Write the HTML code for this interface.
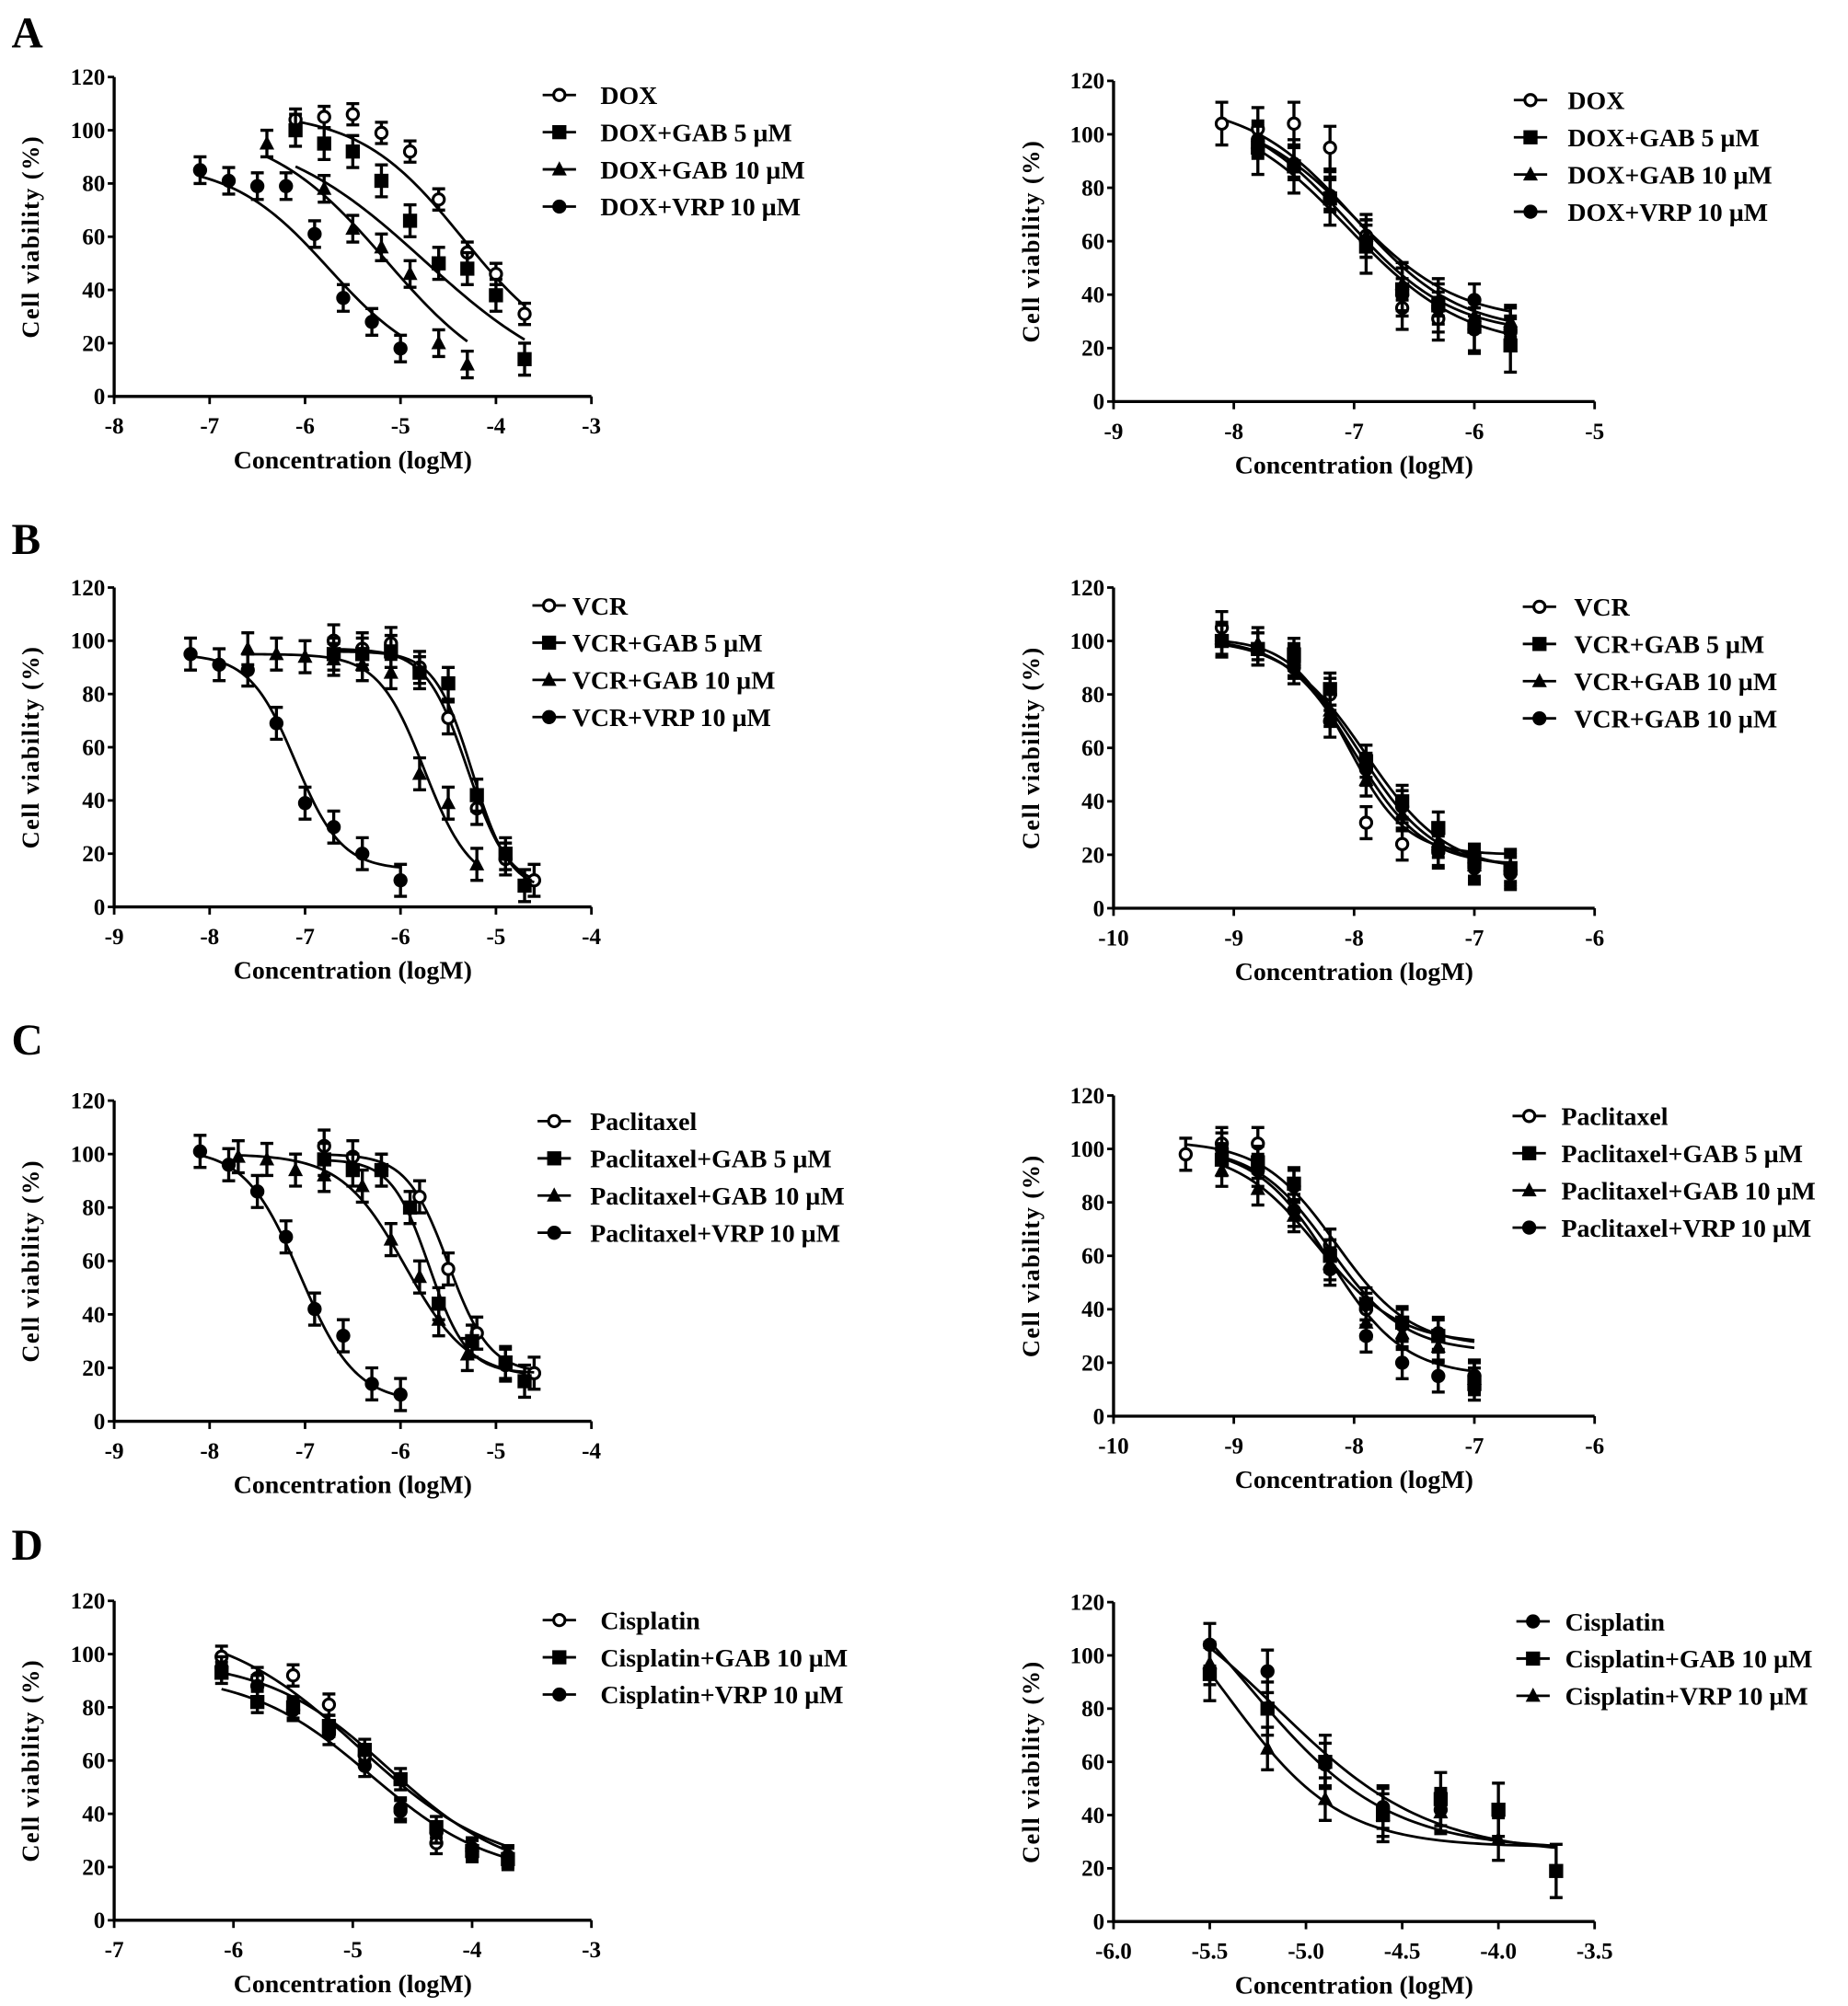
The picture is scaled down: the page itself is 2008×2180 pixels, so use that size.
<!DOCTYPE html>
<html><head><meta charset="utf-8"><style>
html,body{margin:0;padding:0;background:#fff;}
svg{display:block;}
svg text{font-family:"Liberation Serif","Times New Roman",serif !important;font-weight:bold;fill:#000;}
</style></head><body>
<svg id="fig" xmlns="http://www.w3.org/2000/svg" width="2008" height="2180" viewBox="0 0 1440.5 1563.8" font-family="Liberation Serif, serif" font-weight="bold"></svg>
<script>
// ===== Data (x = log concentration, y = cell viability %) =====
// Panel A left
const aL_names = ["DOX","DOX+GAB 5 µM","DOX+GAB 10 µM","DOX+VRP 10 µM"];
const aL_s1x = [-6.1,-5.8,-5.5,-5.2,-4.9,-4.6,-4.3,-4.0,-3.7];
const aL_s1y = [104,105,106,99,92,74,54,46,31];
const aL_s2x = [-6.1,-5.8,-5.5,-5.2,-4.9,-4.6,-4.3,-4.0,-3.7];
const aL_s2y = [100,95,92,81,66,50,48,38,14];
const aL_s3x = [-6.4,-5.8,-5.5,-5.2,-4.9,-4.6,-4.3];
const aL_s3y = [95,78,63,56,46,20,12];
const aL_s4x = [-7.1,-6.8,-6.5,-6.2,-5.9,-5.6,-5.3,-5.0];
const aL_s4y = [85,81,79,79,61,37,28,18];
const aL_fit = [[107,12,-4.35,0.8,-6.1,-3.7],[102,0,-4.75,0.55,-6.1,-3.7],[102,0,-5.15,0.7,-6.4,-4.3],[88,8,-5.75,0.85,-7.1,-5.0]];
const aL_err = [4,6,5,5];
// Panel A right
const aR_names = ["DOX","DOX+GAB 5 µM","DOX+GAB 10 µM","DOX+VRP 10 µM"];
const aR_xs = [-8.1,-7.8,-7.5,-7.2,-6.9,-6.6,-6.3,-6.0,-5.7];
const aR_s1y = [104,102,104,95,62,35,31,27,27];
const aR_s2y = [null,95,88,76,58,42,36,28,21];
const aR_s3y = [null,97,90,78,62,44,38,32,30];
const aR_s4y = [null,98,89,77,60,40,35,38,26];
const aR_fit = [[112,26,-7.0,1.0,-8.1,-5.7],[110,20,-7.05,0.9,-7.8,-5.7],[108,30,-7.0,1.0,-7.8,-5.7],[110,25,-7.05,1.0,-7.8,-5.7]];
const aR_err = [8,10,6,6];
// Panel B left
const bL_names = ["VCR","VCR+GAB 5 µM","VCR+GAB 10 µM","VCR+VRP 10 µM"];
const bL_s1x = [-6.7,-6.4,-6.1,-5.8,-5.5,-5.2,-4.9,-4.6];
const bL_s1y = [100,97,99,90,71,37,18,10];
const bL_s2x = [-6.7,-6.4,-6.1,-5.8,-5.5,-5.2,-4.9,-4.7];
const bL_s2y = [95,95,96,88,84,42,20,8];
const bL_s3x = [-7.6,-7.3,-7.0,-6.7,-6.4,-6.1,-5.8,-5.5,-5.2];
const bL_s3y = [97,95,94,93,91,88,50,39,16];
const bL_s4x = [-8.2,-7.9,-7.6,-7.3,-7.0,-6.7,-6.4,-6.0];
const bL_s4y = [95,91,89,69,39,30,20,10];
const bL_fit = [[97,7,-5.3,2.0,-6.7,-4.6],[96,6,-5.25,2.2,-6.7,-4.6],[95,8,-5.75,1.8,-7.6,-5.2],[95,14,-7.1,1.8,-8.2,-6.0]];
const bL_err = [6,6,6,6];
// Panel B right
const bR_names = ["VCR","VCR+GAB 5 µM","VCR+GAB 10 µM","VCR+GAB 10 µM"];
const bR_xs = [-9.1,-8.8,-8.5,-8.2,-7.9,-7.6,-7.3,-7.0,-6.7];
const bR_s1y = [105,97,92,80,32,24,21,17,14];
const bR_s2y = [100,97,95,82,55,40,30,18,15];
const bR_s3y = [101,99,93,74,48,35,25,16,16];
const bR_s4y = [100,97,90,70,52,38,22,15,13];
const bR_fit = [[101,20,-8.05,1.8,-9.1,-6.7],[101,14,-7.9,1.3,-9.1,-6.7],[101,15,-7.95,1.4,-9.1,-6.7],[101,16,-8.0,1.5,-9.1,-6.7]];
const bR_err = [6,6,6,6];
// Panel C left
const cL_names = ["Paclitaxel","Paclitaxel+GAB 5 µM","Paclitaxel+GAB 10 µM","Paclitaxel+VRP 10 µM"];
const cL_s1x = [-6.8,-6.5,-6.2,-5.8,-5.5,-5.2,-4.9,-4.6];
const cL_s1y = [103,99,94,84,57,33,21,18];
const cL_s2x = [-6.8,-6.5,-6.2,-5.9,-5.6,-5.25,-4.9,-4.7];
const cL_s2y = [98,94,94,80,44,30,22,15];
const cL_s3x = [-7.7,-7.4,-7.1,-6.8,-6.4,-6.1,-5.8,-5.6,-5.3];
const cL_s3y = [99,98,94,92,88,68,54,38,25];
const cL_s4x = [-8.1,-7.8,-7.5,-7.2,-6.9,-6.6,-6.3,-6.0];
const cL_s4y = [101,96,86,69,42,32,14,10];
const cL_fit = [[100,18,-5.5,2.0,-6.8,-4.6],[98,18,-5.7,2.2,-6.8,-4.6],[100,16,-5.95,1.3,-7.7,-4.7],[102,7,-7.05,1.5,-8.1,-6.0]];
const cL_err = [6,6,6,6];
// Panel C right
const cR_names = ["Paclitaxel","Paclitaxel+GAB 5 µM","Paclitaxel+GAB 10 µM","Paclitaxel+VRP 10 µM"];
const cR_xs = [-9.4,-9.1,-8.8,-8.5,-8.2,-7.9,-7.6,-7.3,-7.0];
const cR_s1y = [98,102,102,86,64,40,34,31,15];
const cR_s2y = [null,96,95,87,60,42,35,30,12];
const cR_s3y = [null,92,85,75,57,35,31,26,14];
const cR_s4y = [null,100,92,77,55,30,20,15,15];
const cR_fit = [[103,26,-8.15,1.4,-9.4,-7.0],[101,24,-8.2,1.4,-9.1,-7.0],[100,27,-8.3,1.3,-9.1,-7.0],[101,15,-8.2,1.4,-9.1,-7.0]];
const cR_err = [6,6,6,6];
// Panel D left
const dL_names = ["Cisplatin","Cisplatin+GAB 10 µM","Cisplatin+VRP 10 µM"];
const dL_xs = [-6.1,-5.8,-5.5,-5.2,-4.9,-4.6,-4.3,-4.0,-3.7];
const dL_s1y = [99,91,92,81,62,41,29,27,24];
const dL_s2y = [93,82,80,73,64,53,35,26,23];
const dL_s3y = [95,88,79,70,58,42,33,26,24];
const dL_fit = [[112,18,-4.95,0.75,-6.1,-3.7],[98,16,-4.7,0.85,-6.1,-3.7],[93,16,-4.85,0.85,-6.1,-3.7]];
const dL_err = [4,4,4];
// Panel D right
const dR_names = ["Cisplatin","Cisplatin+GAB 10 µM","Cisplatin+VRP 10 µM"];
const dR_s1x = [-5.5,-5.2,-4.9,-4.6,-4.3];
const dR_s1y = [104,94,59,43,42];
const dR_s2x = [-5.5,-5.2,-4.9,-4.6,-4.3,-4.0,-3.7];
const dR_s2y = [93,80,60,40,46,42,19];
const dR_s3x = [-5.5,-5.2,-4.9,-4.6,-4.3,-4.0];
const dR_s3y = [97,65,46,40,41,31];
const dR_fit = [[150,27,-5.3,1.2,-5.5,-3.7],[135,25,-5.15,1.1,-5.5,-3.7],[140,28,-5.4,1.5,-5.5,-3.7]];
const dR_err = [8,10,8];

// ===== Drawing =====
const NS = "http://www.w3.org/2000/svg";
const svg = document.getElementById("fig");
const FF = "Liberation Serif, Times New Roman, serif";
function el(tag, attrs, parent){
  const e = document.createElementNS(NS, tag);
  for (const k in attrs) e.setAttribute(k, attrs[k]);
  if (tag === "text") { e.setAttribute("font-family", FF); e.setAttribute("font-weight", "bold"); }
  (parent||svg).appendChild(e);
  return e;
}
function marker(g, type, cx, cy, r){
  let m;
  if (type === "ocircle") m = el("circle",{cx:cx,cy:cy,r:r*0.8,fill:"#fff",stroke:"#000","stroke-width":2.2},g);
  else if (type === "circle") m = el("circle",{cx:cx,cy:cy,r:r,fill:"#000"},g);
  else if (type === "square") m = el("rect",{x:cx-r,y:cy-r,width:2*r,height:2*r,fill:"#000"},g);
  else m = el("polygon",{points:`${cx},${cy-r*1.15} ${cx-r*1.05},${cy+r*0.85} ${cx+r*1.05},${cy+r*0.85}`,fill:"#000"},g);
  return m;
}
function panel(cfg){
  const g = el("g",{});
  
  
  const sx = v => cfg.px0 + (v - cfg.xmin)/(cfg.xmax - cfg.xmin)*(cfg.px1 - cfg.px0);
  const sy = v => cfg.py0 - v/120*(cfg.py0 - cfg.py120);
  const ax = el("path",{d:`M${cfg.px0},${cfg.py120} L${cfg.px0},${cfg.py0} L${cfg.px1},${cfg.py0}`,fill:"none",stroke:"#000","stroke-width":2.4},g);
  
  
  for (let v=0; v<=120; v+=20){
    el("line",{x1:cfg.px0-5,x2:cfg.px0,y1:sy(v),y2:sy(v),stroke:"#000","stroke-width":2},g);
    const t = el("text",{x:cfg.px0-7,y:sy(v)+6,"text-anchor":"end","font-size":18},g);
    t.textContent = v;
    
    
  }
  cfg.xticks.forEach(v=>{
    el("line",{x1:sx(v),x2:sx(v),y1:cfg.py0,y2:cfg.py0+6,stroke:"#000","stroke-width":2},g);
    const t = el("text",{x:sx(v),y:cfg.py0+29,"text-anchor":"middle","font-size":18},g);
    t.textContent = cfg.xfmt ? v.toFixed(1) : v;
    
    
  });
  const xt = el("text",{x:(cfg.px0+cfg.px1)/2,y:cfg.py0+56,"text-anchor":"middle","font-size":20},g);
  xt.textContent = "Concentration (logM)";
  
  
  const ycx = cfg.ytx, ycy = (cfg.py0+cfg.py120)/2;
  const yt = el("text",{x:ycx,y:ycy,"text-anchor":"middle","font-size":19,transform:`rotate(-90 ${ycx} ${ycy})`,"letter-spacing":"1"},g);
  yt.textContent = "Cell viability (%)";
  
  
  cfg.series.forEach((s,i)=>{
    const sg = el("g",{},g);
    
    
    const f = cfg.fit[i];
    let d = "";
    for (let k=0;k<=80;k++){
      const x = f[4] + (f[5]-f[4])*k/80;
      const y = f[1] + (f[0]-f[1])/(1+Math.pow(10,(x-f[2])*f[3]));
      d += (k?"L":"M") + sx(x).toFixed(2) + "," + sy(y).toFixed(2);
    }
    const c = el("path",{d:d,fill:"none",stroke:"#000","stroke-width":2},sg);
    
    
    s.x.forEach((xv,j)=>{
      const yv = s.y[j];
      if (yv === null || yv === undefined) return;
      const e = cfg.err[i];
      const X = sx(xv), Y = sy(yv);
      const eb = el("path",{d:`M${X},${sy(yv+e)} L${X},${sy(yv-e)} M${X-5},${sy(yv+e)} L${X+5},${sy(yv+e)} M${X-5},${sy(yv-e)} L${X+5},${sy(yv-e)}`,stroke:"#000","stroke-width":2.4,fill:"none"},sg);
      
      
      const m = marker(sg, s.m, X, Y, 5.5);
      
      
    });
  });
  cfg.names.forEach((n,i)=>{
    const lg = el("g",{},g);
    
    
    const y = cfg.ly + i*29;
    el("line",{x1:cfg.lmx-13,x2:cfg.lmx+13,y1:y,y2:y,stroke:"#000","stroke-width":2},lg);
    marker(lg, cfg.series[i].m, cfg.lmx, y, 5.5);
    const t = el("text",{x:cfg.ltx,y:y+7,"font-size":20},lg);
    t.textContent = n;
  });
}
const L = {px0:89,px1:461,ytx:30};
const R = {px0:868,px1:1243,ytx:810};
const mk4 = ["ocircle","square","triangle","circle"];
panel(Object.assign({},L,{name:"panel-a-left",xmin:-8,xmax:-3,xticks:[-8,-7,-6,-5,-4,-3],py0:309,py120:60,
  series:[{x:aL_s1x,y:aL_s1y,m:mk4[0]},{x:aL_s2x,y:aL_s2y,m:mk4[1]},{x:aL_s3x,y:aL_s3y,m:mk4[2]},{x:aL_s4x,y:aL_s4y,m:mk4[3]}],
  fit:aL_fit,err:aL_err,names:aL_names,lmx:436,ltx:468,ly:74}));
panel(Object.assign({},R,{name:"panel-a-right",xmin:-9,xmax:-5,xticks:[-9,-8,-7,-6,-5],py0:313,py120:63,
  series:[{x:aR_xs,y:aR_s1y,m:mk4[0]},{x:aR_xs,y:aR_s2y,m:mk4[1]},{x:aR_xs,y:aR_s3y,m:mk4[2]},{x:aR_xs,y:aR_s4y,m:mk4[3]}],
  fit:aR_fit,err:aR_err,names:aR_names,lmx:1193,ltx:1222,ly:78}));
panel(Object.assign({},L,{name:"panel-b-left",xmin:-9,xmax:-4,xticks:[-9,-8,-7,-6,-5,-4],py0:707,py120:458,
  series:[{x:bL_s1x,y:bL_s1y,m:mk4[0]},{x:bL_s2x,y:bL_s2y,m:mk4[1]},{x:bL_s3x,y:bL_s3y,m:mk4[2]},{x:bL_s4x,y:bL_s4y,m:mk4[3]}],
  fit:bL_fit,err:bL_err,names:bL_names,lmx:428,ltx:446,ly:472}));
panel(Object.assign({},R,{name:"panel-b-right",xmin:-10,xmax:-6,xticks:[-10,-9,-8,-7,-6],py0:708,py120:458,
  series:[{x:bR_xs,y:bR_s1y,m:mk4[0]},{x:bR_xs,y:bR_s2y,m:mk4[1]},{x:bR_xs,y:bR_s3y,m:mk4[2]},{x:bR_xs,y:bR_s4y,m:mk4[3]}],
  fit:bR_fit,err:bR_err,names:bR_names,lmx:1200,ltx:1227,ly:473}));
panel(Object.assign({},L,{name:"panel-c-left",xmin:-9,xmax:-4,xticks:[-9,-8,-7,-6,-5,-4],py0:1108,py120:858,
  series:[{x:cL_s1x,y:cL_s1y,m:mk4[0]},{x:cL_s2x,y:cL_s2y,m:mk4[1]},{x:cL_s3x,y:cL_s3y,m:mk4[2]},{x:cL_s4x,y:cL_s4y,m:mk4[3]}],
  fit:cL_fit,err:cL_err,names:cL_names,lmx:432,ltx:460,ly:874}));
panel(Object.assign({},R,{name:"panel-c-right",xmin:-10,xmax:-6,xticks:[-10,-9,-8,-7,-6],py0:1104,py120:854,
  series:[{x:cR_xs,y:cR_s1y,m:mk4[0]},{x:cR_xs,y:cR_s2y,m:mk4[1]},{x:cR_xs,y:cR_s3y,m:mk4[2]},{x:cR_xs,y:cR_s4y,m:mk4[3]}],
  fit:cR_fit,err:cR_err,names:cR_names,lmx:1192,ltx:1217,ly:870}));
panel(Object.assign({},L,{name:"panel-d-left",xmin:-7,xmax:-3,xticks:[-7,-6,-5,-4,-3],py0:1497,py120:1248,
  series:[{x:dL_xs,y:dL_s1y,m:"ocircle"},{x:dL_xs,y:dL_s2y,m:"square"},{x:dL_xs,y:dL_s3y,m:"circle"}],
  fit:dL_fit,err:dL_err,names:dL_names,lmx:436,ltx:468,ly:1263}));
panel(Object.assign({},R,{name:"panel-d-right",xmin:-6,xmax:-3.5,xticks:[-6,-5.5,-5,-4.5,-4,-3.5],xfmt:true,py0:1498,py120:1249,
  series:[{x:dR_s1x,y:dR_s1y,m:"circle"},{x:dR_s2x,y:dR_s2y,m:"square"},{x:dR_s3x,y:dR_s3y,m:"triangle"}],
  fit:dR_fit,err:dR_err,names:dR_names,lmx:1195,ltx:1220,ly:1264}));
[["A",37],["B",432],["C",822],["D",1216]].forEach(p=>{
  const t = el("text",{x:9,y:p[1],"font-size":34});
  t.textContent = p[0];
  
  
});
</script>
</body></html>
